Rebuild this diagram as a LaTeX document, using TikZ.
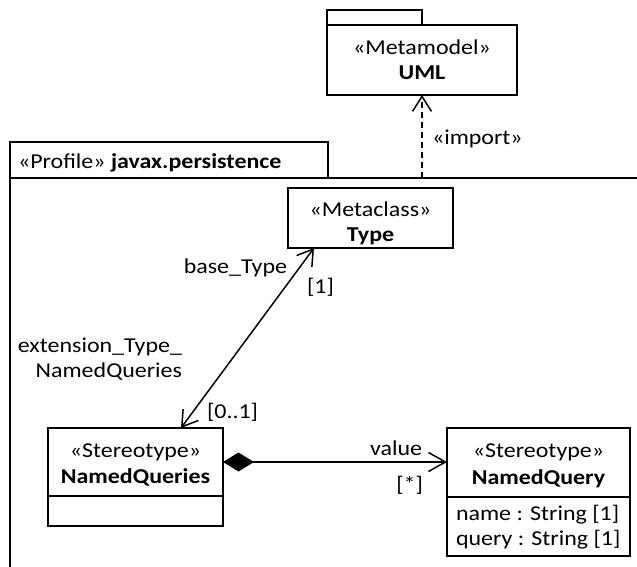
\documentclass[tikz,border=0pt]{standalone}
\usepackage{fontspec}
\setmainfont{Carlito}[FakeStretch=1.13]
\usetikzlibrary{arrows.meta,calc}
\newcommand\umlfont{\fontsize{21.2}{25}\selectfont}
\begin{document}
\begin{tikzpicture}[x=1pt, y=-1pt, line width=1.5pt,
  box/.style={draw, inner sep=0pt, outer sep=0pt, anchor=north west},
  lbl/.style={inner sep=0pt, outer sep=0pt, font=\umlfont},
  barb/.style={-{Straight Barb[length=15pt,width=19pt]}},
  dblbarb/.style={{Straight Barb[length=15pt,width=19pt]}-{Straight Barb[length=15pt,width=19pt]}},
  compo/.style={{Diamond[length=31pt,width=19pt]}-{Straight Barb[length=17pt,width=19pt]}},
  importdash/.style={dash pattern=on 6pt off 4pt},
]
\useasboundingbox (0,0) rectangle (637,567);

% UML metamodel package
\node[box, minimum width=95pt, minimum height=15pt] (umltab) at (327,10) {};
\node[box, minimum width=190pt, minimum height=70pt] (uml) at (327,25) {};
\node[lbl, anchor=base] (umlst) at (422,55) {«Metamodel»};
\node[lbl, anchor=base] (umlname) at (422,80) {\textbf{UML}};

% Profile package frame (open to the right and bottom)
\node[box, minimum width=318pt, minimum height=36pt] (proftab) at (10,142) {};
\node[lbl, anchor=base west] (proftitle) at (18,168) {«Profile» \textbf{javax.persistence}};
\draw (10,567) -- (proftab.south west) -- (637,178);
\coordinate (importfoot) at (422,178);

% Metaclass Type
\node[box, minimum width=165pt, minimum height=60pt] (type) at (288,188) {};
\node[lbl, anchor=base] (typest) at (370.5,216) {«Metaclass»};
\node[lbl, anchor=base] (typename) at (370.5,241) {\textbf{Type}};

% Stereotype NamedQueries
\node[box, minimum width=175pt, minimum height=98pt] (nqs) at (48,428) {};
\draw (48,496) -- (223,496);
\node[lbl, anchor=base] (nqsst) at (135.5,457) {«Stereotype»};
\node[lbl, anchor=base] (nqsname) at (135.5,483) {\textbf{NamedQueries}};

% Stereotype NamedQuery
\node[box, minimum width=183pt, minimum height=128pt] (nq) at (447,428) {};
\draw (447,497) -- (630,497);
\node[lbl, anchor=base] (nqst) at (538.5,457) {«Stereotype»};
\node[lbl, anchor=base] (nqname) at (538.5,484) {\textbf{NamedQuery}};
\node[lbl, anchor=base west] (nqattr1) at (456,520) {name : String [1]};
\node[lbl, anchor=base west] (nqattr2) at (456,545) {query : String [1]};

% Import dependency
\draw[importdash, barb] (importfoot) -- (uml.south);
\node[lbl, anchor=base west] (importlbl) at (432,145) {«import»};

% Extension association
\draw[dblbarb] ($(nqs.north west)+(133,0)$) -- ($(type.south west)+(26,0)$);
\node[lbl, anchor=base east] (baserole) at (287,273) {base\_Type};
\node[lbl, anchor=base west] (basemult) at (307,293) {[1]};
\node[lbl, anchor=base east, align=right] (extrole) at (182,377) {extension\_Type\_\\NamedQueries};
\node[lbl, anchor=base west] (extmult) at (207,418) {[0..1]};

% Composition
\draw[compo] ($(nqs.north east)+(0,34)$) -- ($(nq.north west)+(0,34)$);
\node[lbl, anchor=base east] (valrole) at (422,455) {value};
\node[lbl, anchor=base east] (valmult) at (423,491) {[*]};
\end{tikzpicture}
\end{document}
